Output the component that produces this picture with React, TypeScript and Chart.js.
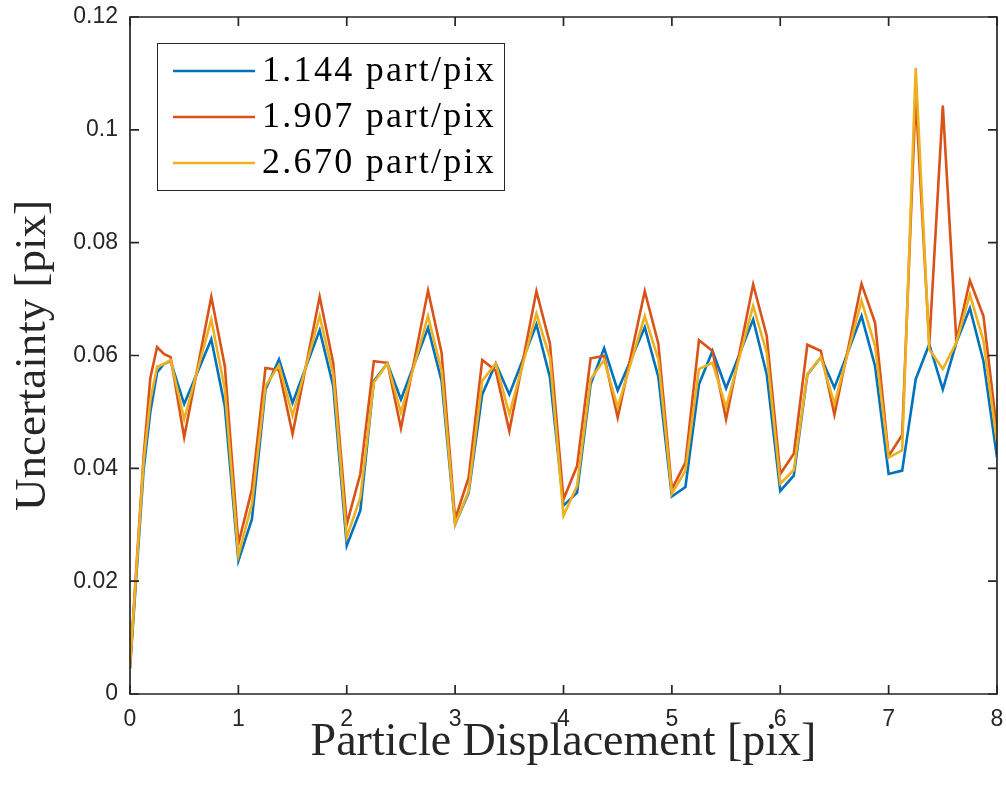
import React, { useEffect, useRef } from "react";
import { Chart, registerables } from "chart.js";

Chart.register(...registerables);

const displacement = [
  0, 0.125, 0.1875, 0.25, 0.3125, 0.375, 0.5, 0.75, 0.875,
  1, 1.125, 1.25, 1.375, 1.5, 1.75, 1.875,
  2, 2.125, 2.25, 2.375, 2.5, 2.75, 2.875,
  3, 3.125, 3.25, 3.375, 3.5, 3.75, 3.875,
  4, 4.125, 4.25, 4.375, 4.5, 4.75, 4.875,
  5, 5.125, 5.25, 5.375, 5.5, 5.75, 5.875,
  6, 6.125, 6.25, 6.375, 6.5, 6.75, 6.875,
  7, 7.125, 7.25, 7.375, 7.5, 7.625, 7.75, 7.875,
  8,
];

const unc1144 = [
  0.0045, 0.0396, 0.05, 0.057, 0.0585, 0.059, 0.0514, 0.0629, 0.051,
  0.0236, 0.031, 0.054, 0.0593, 0.0516, 0.0645, 0.0546,
  0.0263, 0.0325, 0.0555, 0.0586, 0.0522, 0.0649, 0.0555,
  0.0301, 0.0357, 0.0531, 0.0586, 0.0531, 0.0655, 0.0561,
  0.0334, 0.0357, 0.0549, 0.0613, 0.0538, 0.065, 0.0562,
  0.035, 0.0367, 0.0549, 0.0608, 0.0542, 0.0664, 0.0567,
  0.036, 0.0387, 0.0566, 0.0597, 0.0543, 0.067, 0.0581,
  0.039, 0.0396, 0.0558, 0.062, 0.054, 0.0623, 0.0684, 0.059,
  0.0419,
];

const unc1907 = [
  0.005, 0.042, 0.056, 0.0615, 0.0603, 0.0597, 0.0455, 0.0704, 0.0581,
  0.0266, 0.0363, 0.0578, 0.0574, 0.0461, 0.0704, 0.0587,
  0.0301, 0.039, 0.059, 0.0587, 0.0471, 0.0715, 0.0605,
  0.031, 0.0384, 0.0592, 0.0573, 0.0466, 0.0714, 0.0621,
  0.0345, 0.0404, 0.0595, 0.0599, 0.049, 0.0714, 0.0621,
  0.0363, 0.041, 0.0627, 0.0608, 0.0487, 0.0726, 0.0635,
  0.039, 0.0426, 0.0619, 0.0608, 0.0495, 0.0727, 0.0658,
  0.0422, 0.0459, 0.106, 0.062, 0.1043, 0.0626, 0.0733, 0.067,
  0.0466,
];

const unc2670 = [
  0.005, 0.041, 0.052, 0.058, 0.0585, 0.0592, 0.0487, 0.0664, 0.054,
  0.0245, 0.0337, 0.0546, 0.0583, 0.0493, 0.067, 0.0567,
  0.0278, 0.0348, 0.0552, 0.0586, 0.0499, 0.067, 0.0573,
  0.0301, 0.036, 0.0555, 0.0586, 0.0496, 0.0674, 0.0596,
  0.0316, 0.0369, 0.0558, 0.0592, 0.0508, 0.067, 0.0593,
  0.0355, 0.0396, 0.0576, 0.0587, 0.0508, 0.0688, 0.0605,
  0.0373, 0.0397, 0.0567, 0.0597, 0.0514, 0.0697, 0.0617,
  0.0419, 0.0432, 0.111, 0.0611, 0.0576, 0.0623, 0.0708, 0.0626,
  0.0446,
];

const seriesLabels = ["1.144 part/pix", "1.907 part/pix", "2.670 part/pix"];
const seriesColors = ["#0072BD", "#D95319", "#EDB120"];
const yTickValues = [0, 0.02, 0.04, 0.06, 0.08, 0.1, 0.12];
const yTickLabels = ["0", "0.02", "0.04", "0.06", "0.08", "0.1", "0.12"];
const xTickValues = [0, 1, 2, 3, 4, 5, 6, 7, 8];
const xTickLabels = ["0", "1", "2", "3", "4", "5", "6", "7", "8"];

const AXIS_COLOR = "#262626";
const TICK_LEN = 9;

const framePlugin = {
  id: "matlabFrame",
  afterDatasetsDraw(chart: any) {
    const { ctx, chartArea } = chart;
    const xs = chart.scales.x;
    const ys = chart.scales.y;
    const { left, right, top, bottom } = chartArea;
    ctx.save();
    ctx.strokeStyle = AXIS_COLOR;
    ctx.lineWidth = 1.7;
    ctx.beginPath();
    ctx.rect(left, top, right - left, bottom - top);
    ctx.stroke();
    ctx.beginPath();
    xTickValues.forEach((v) => {
      const px = xs.getPixelForValue(v);
      ctx.moveTo(px, bottom);
      ctx.lineTo(px, bottom - TICK_LEN);
      ctx.moveTo(px, top);
      ctx.lineTo(px, top + TICK_LEN);
    });
    yTickValues.forEach((v) => {
      const py = ys.getPixelForValue(v);
      ctx.moveTo(left, py);
      ctx.lineTo(left + TICK_LEN, py);
      ctx.moveTo(right, py);
      ctx.lineTo(right - TICK_LEN, py);
    });
    ctx.stroke();
    ctx.restore();
  },
};

const legendPlugin = {
  id: "matlabLegend",
  afterDraw(chart: any) {
    const { ctx } = chart;
    const boxX = 157.5;
    const boxY = 43.5;
    const boxW = 347;
    const boxH = 147;
    ctx.save();
    ctx.fillStyle = "#ffffff";
    ctx.fillRect(boxX, boxY, boxW, boxH);
    ctx.strokeStyle = AXIS_COLOR;
    ctx.lineWidth = 1;
    ctx.strokeRect(boxX, boxY, boxW, boxH);
    const rowY = [71, 117, 163];
    chart.data.datasets.forEach((ds: any, i: number) => {
      const y = rowY[i];
      ctx.strokeStyle = ds.borderColor;
      ctx.lineWidth = 2.6;
      ctx.beginPath();
      ctx.moveTo(173, y);
      ctx.lineTo(255, y);
      ctx.stroke();
      ctx.fillStyle = "#000000";
      ctx.font = "36px 'Liberation Serif'";
      (ctx as any).letterSpacing = "2.3px";
      ctx.textAlign = "left";
      ctx.textBaseline = "alphabetic";
      ctx.fillText(ds.label, 262, y + 10);
    });
    ctx.restore();
  },
};

export default function App() {
  const canvasRef = useRef<HTMLCanvasElement | null>(null);

  useEffect(() => {
    if (!canvasRef.current) return;
    const datasets = [unc1144, unc1907, unc2670].map((vals, i) => ({
      label: seriesLabels[i],
      data: displacement.map((x, j) => ({ x, y: vals[j] })),
      borderColor: seriesColors[i],
      backgroundColor: seriesColors[i],
      borderWidth: 2.6,
      pointRadius: 0,
      showLine: true,
      tension: 0,
      order: 3 - i,
    }));
    const tickFont = { family: "'Liberation Sans', Arial, sans-serif", size: 23 };
    const chart = new Chart(canvasRef.current, {
      type: "scatter",
      data: { datasets },
      options: {
        animation: false,
        responsive: false,
        maintainAspectRatio: false,
        layout: { padding: { left: 0, top: 17, right: 9, bottom: 0 } },
        plugins: { legend: { display: false }, tooltip: { enabled: false } },
        scales: {
          x: {
            type: "linear",
            min: 0,
            max: 8,
            afterBuildTicks: (s: any) => {
              s.ticks = xTickValues.map((v) => ({ value: v }));
            },
            afterFit: (s: any) => {
              s.height = 788 - 694;
              s.paddingLeft = 0;
              s.paddingRight = 0;
            },
            ticks: {
              callback: (v: any) => xTickLabels[xTickValues.indexOf(Number(v))] ?? "",
              font: tickFont,
              color: AXIS_COLOR,
              padding: 12,
              maxRotation: 0,
              autoSkip: false,
            },
            grid: { display: false, drawTicks: false },
            border: { display: false },
            title: {
              display: true,
              text: "Particle Displacement [pix]",
              font: { family: "'Liberation Serif', serif", size: 46 },
              color: AXIS_COLOR,
              padding: { top: 0, bottom: 17 },
            },
          },
          y: {
            type: "linear",
            min: 0,
            max: 0.12,
            afterBuildTicks: (s: any) => {
              s.ticks = yTickValues.map((v) => ({ value: v }));
            },
            afterFit: (s: any) => {
              s.width = 130;
              s.paddingTop = 0;
              s.paddingBottom = 0;
            },
            ticks: {
              callback: (v: any) => {
                const idx = yTickValues.findIndex((t) => Math.abs(t - Number(v)) < 1e-9);
                return idx >= 0 ? yTickLabels[idx] : "";
              },
              font: tickFont,
              color: AXIS_COLOR,
              padding: 12,
              autoSkip: false,
            },
            grid: { display: false, drawTicks: false },
            border: { display: false },
            title: {
              display: true,
              text: "Uncertainty [pix]",
              font: { family: "'Liberation Serif', serif", size: 45 },
              color: AXIS_COLOR,
              padding: { top: 6, bottom: 0 },
            },
          },
        },
      },
      plugins: [framePlugin, legendPlugin],
    });
    return () => chart.destroy();
  }, []);

  return (
    <div style={{ position: "absolute", left: 0, top: 0, width: 1006, height: 788, background: "#fff" }}>
      <canvas ref={canvasRef} width={1006} height={788} style={{ display: "block", width: 1006, height: 788 }} />
    </div>
  );
}
